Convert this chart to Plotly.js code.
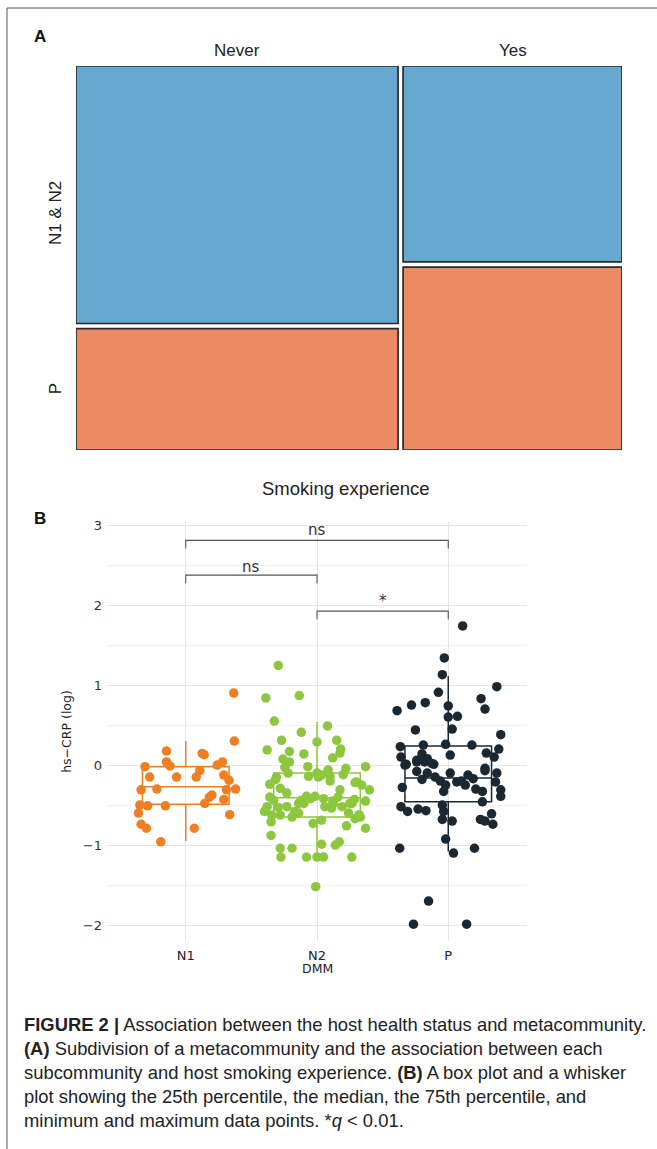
<!DOCTYPE html>
<html>
<head>
<meta charset="utf-8">
<script src="https://cdn.plot.ly/plotly-3.0.1.min.js"></script>
<style>
html,body{margin:0;padding:0;background:#fff;}
#chart{width:657px;height:1149px;}
</style>
</head>
<body>
<div id="chart"></div>
<script>
// ---------- DATA ----------
// Panel A: mosaic (smoking experience x DMM subcommunity), counts
var smokeCats = ['Never', 'Yes'];
var dmmGroupsA = ['N1 & N2', 'P'];
var countsN1N2 = [87, 45];   // per smoking category
var countsP = [41, 42];

// Panel B: hs-CRP (log) by DMM
var dmmCats = ['N1', 'N2', 'P'];
var boxQ1 = [-0.49, -0.65, -0.46];
var boxMedian = [-0.27, -0.41, -0.16];
var boxQ3 = [-0.02, -0.10, 0.24];
var boxLower = [-0.95, -1.15, -1.08];
var boxUpper = [0.30, 0.54, 1.11];

var n1Values = [0.90,0.30,0.175,0.146,0.13,0.04,-0.01,-0.02,0.0,0.04,-0.07,-0.15,-0.15,-0.15,-0.125,-0.19,-0.30,-0.31,-0.31,-0.30,-0.375,-0.40,-0.43,-0.50,-0.51,-0.51,-0.48,-0.60,-0.62,-0.74,-0.79,-0.79,-0.96];
var n1Jitter = [0.366,0.37,-0.147,0.125,0.14,-0.147,-0.12,-0.31,0.24,0.28,0.107,0.08,-0.275,-0.07,0.29,0.33,0.38,0.31,-0.34,-0.22,0.20,0.18,0.29,-0.35,-0.29,-0.155,0.145,-0.36,0.335,-0.34,-0.30,0.065,-0.19];

var n2Values = [1.246,0.84,0.87,0.55,0.49,0.41,0.31,0.29,0.31,0.20,0.15,0.19,0.17,0.14,0.09,0.075,0.04,-0.03,-0.02,-0.04,-0.02,-0.10,-0.06,-0.10,-0.15,
  -0.14,-0.125,-0.14,-0.22,-0.25,-0.24,-0.18,-0.29,-0.35,-0.31,-0.40,-0.44,-0.39,-0.39,-0.42,-0.45,-0.40,-0.43,-0.48,-0.45,-0.48,-0.53,-0.58,-0.625,-0.625,-0.65,-0.60,-0.71,-0.52,-0.60,-0.67,-0.65,-0.69,-0.73,-0.52,-0.48,-0.76,-0.79,-0.88,-0.99,-1.0,-0.96,-1.04,-1.04,-1.15,-1.15,-1.15,-1.15,-1.15,-1.52,
  -0.44,-0.52,-0.48,-0.42,-0.54,-0.31,-0.48,-0.21,-0.15,-0.20,-0.12,-0.58,-0.62,-0.52];
var n2Jitter = [-0.295,-0.39,-0.135,-0.325,0.08,-0.12,-0.27,0,0.15,0.18,0.175,-0.38,-0.21,-0.10,0.12,-0.26,-0.21,-0.245,-0.07,0.22,0.37,-0.22,0.085,0,-0.31,
  -0.065,0.035,0.10,0.29,0.34,-0.36,-0.315,-0.28,-0.23,0.40,-0.36,-0.12,-0.08,-0.015,0.05,0.12,0.16,0.285,0.265,0.37,-0.14,-0.295,-0.40,-0.345,-0.28,-0.19,-0.14,-0.35,0.19,0.24,0.29,0.33,0.035,-0.03,0.06,0.125,0.225,0.37,-0.35,0.035,0.14,0.17,-0.28,-0.19,-0.275,-0.08,0,0.05,0.265,-0.01,
  -0.33,-0.23,-0.10,-0.05,0.11,0.175,0.25,0.30,0.01,0.10,0.20,-0.17,0.32,-0.38];

var pValues = [1.74,1.34,1.13,0.98,0.91,0.83,0.78,0.75,0.68,0.70,0.74,0.60,0.61,0.45,0.44,0.38,0.23,0.25,0.26,0.25,0.20,0.15,0.125,0.10,0.10,0.14,0.06,0.02,0.01,0.08,-0.04,
  0.0,0.04,0.04,0.01,-0.08,-0.10,-0.18,-0.10,-0.07,-0.10,-0.15,-0.20,-0.25,-0.33,-0.21,-0.25,-0.125,-0.17,-0.20,-0.21,-0.30,-0.33,-0.31,-0.39,-0.46,-0.28,-0.52,-0.58,-0.55,-0.57,-0.50,-0.58,-0.68,-0.70,-0.68,-0.70,-0.61,-0.74,-0.925,-1.04,-1.10,-1.04,-1.70,-1.99,-1.99];
var pJitter = [0.11,-0.03,-0.045,0.37,-0.075,0.25,-0.175,-0.28,-0.39,0.28,0,0,0.07,0.03,-0.25,0.40,-0.365,-0.19,-0.02,0.18,0.385,0.29,0.015,0.35,-0.36,-0.20,-0.24,-0.125,-0.32,-0.16,0.28,
  -0.33,-0.24,-0.18,-0.11,-0.24,-0.16,-0.20,0.015,0.28,0.37,-0.10,-0.06,-0.02,-0.035,0.065,0.13,0.15,0.19,0.10,0.36,0.21,0.26,0.40,0.40,0.26,-0.35,-0.36,-0.31,-0.23,-0.17,-0.045,-0.035,-0.045,0.03,0.245,0.28,0.33,0.34,-0.02,-0.37,0.04,0.20,-0.15,-0.265,0.14];

// significance brackets
var bracketFrom = [1, 1, 2];
var bracketTo = [3, 2, 3];
var bracketY = [2.81, 2.375, 1.925];
var bracketLabels = ['ns', 'ns', '*'];

var yTickVals = [-2, -1, 0, 1, 2, 3];

// ---------- STYLE / LAYOUT ----------
var W = 657, H = 1149;
function px(x){ return x / W; }
function py(y){ return 1 - y / H; }

var colBlue = '#67A8D1', colOrange = '#EC8A63';
var groupColors = ['#EE7F22', '#8DC63F', '#1B2832'];

var traces = [];

// Mosaic: compute widths/heights from counts
var totals = smokeCats.map(function(c, i){ return countsN1N2[i] + countsP[i]; });
var grand = totals.reduce(function(a, b){ return a + b; }, 0);
var gapX = 0.0092, gapY = 0.0135;
var xLeft = [], xWidth = [];
var cum = 0;
for (var i = 0; i < smokeCats.length; i++) {
  var frac = totals[i] / grand;
  var w = frac * (1 - gapX * (smokeCats.length - 1));
  xLeft.push(cum);
  xWidth.push(w);
  cum += w + gapX;
}
var pH = [], nH = [], pBase = [], nBase = [], xs = [];
for (var i = 0; i < smokeCats.length; i++) {
  var fp = countsP[i] / totals[i];
  var hp = fp * (1 - gapY);
  pBase.push(0); pH.push(hp);
  nBase.push(hp + gapY); nH.push(1 - hp - gapY);
  xs.push(xLeft[i] + xWidth[i] / 2);
}
traces.push({
  type: 'bar', x: xs, y: nH, base: nBase, width: xWidth, name: dmmGroupsA[0],
  marker: {color: colBlue, line: {color: '#2a2a2a', width: 1.7}},
  xaxis: 'x', yaxis: 'y', hoverinfo: 'skip', showlegend: false
});
traces.push({
  type: 'bar', x: xs, y: pH, base: pBase, width: xWidth, name: dmmGroupsA[1],
  marker: {color: colOrange, line: {color: '#2a2a2a', width: 1.7}},
  xaxis: 'x', yaxis: 'y', hoverinfo: 'skip', showlegend: false
});

// Panel B: boxes
var ptsV = [n1Values, n2Values, pValues];
var ptsJ = [n1Jitter, n2Jitter, pJitter];
for (var g = 0; g < dmmCats.length; g++) {
  traces.push({
    type: 'box', x: [g + 1], q1: [boxQ1[g]], median: [boxMedian[g]], q3: [boxQ3[g]],
    lowerfence: [boxLower[g]], upperfence: [boxUpper[g]],
    width: 0.66, whiskerwidth: 0, boxpoints: false,
    line: {color: groupColors[g], width: 1.5}, fillcolor: 'rgba(0,0,0,0)',
    xaxis: 'x2', yaxis: 'y2', showlegend: false, hoverinfo: 'skip'
  });
}
for (var g = 0; g < dmmCats.length; g++) {
  traces.push({
    type: 'scatter', mode: 'markers',
    x: ptsJ[g].map(function(j){ return g + 1 + j; }), y: ptsV[g],
    marker: {color: groupColors[g], size: 9.5},
    xaxis: 'x2', yaxis: 'y2', showlegend: false, hoverinfo: 'skip', cliponaxis: false
  });
}
// brackets
var drop = 0.1;
for (var b = 0; b < bracketFrom.length; b++) {
  traces.push({
    type: 'scatter', mode: 'lines',
    x: [bracketFrom[b], bracketFrom[b], bracketTo[b], bracketTo[b]],
    y: [bracketY[b] - drop, bracketY[b], bracketY[b], bracketY[b] - drop],
    line: {color: '#555', width: 1.1},
    xaxis: 'x2', yaxis: 'y2', showlegend: false, hoverinfo: 'skip'
  });
}

var annotations = [];
var baseFont = 'Liberation Sans, Arial, sans-serif';
function ann(text, x, y, size, opts) {
  var a = {text: text, x: px(x), y: py(y), xref: 'paper', yref: 'paper', showarrow: false,
    xanchor: 'center', yanchor: 'middle', font: {family: baseFont, size: size, color: '#222'}};
  if (opts) for (var k in opts) a[k] = opts[k];
  return a;
}
annotations.push(ann('<b>A</b>', 40, 36, 17, {font: {family: baseFont, size: 17, color: '#111'}}));
annotations.push(ann('<b>B</b>', 40, 519, 17, {font: {family: baseFont, size: 17, color: '#111'}}));
// column labels centred on mosaic columns
for (var i = 0; i < smokeCats.length; i++) {
  annotations.push({text: smokeCats[i], x: xs[i], y: py(50), xref: 'x', yref: 'paper', yanchor: 'middle', xanchor: 'center',
    showarrow: false, font: {family: baseFont, size: 17, color: '#222'}});
}
// row labels
annotations.push(ann(dmmGroupsA[0], 55, 213, 17, {textangle: -90}));
annotations.push({text: dmmGroupsA[1], x: px(55), xref: 'paper', y: pH[0] / 2, yref: 'y', textangle: -90,
  showarrow: false, xanchor: 'center', yanchor: 'middle', font: {family: baseFont, size: 17, color: '#222'}});
annotations.push(ann('Smoking experience', 346, 488, 18.5));

// bracket labels
var bracketLabelY = [2.94, 2.48, 2.05];
for (var b = 0; b < bracketFrom.length; b++) {
  annotations.push({text: bracketLabels[b], x: (bracketFrom[b] + bracketTo[b]) / 2, y: bracketLabelY[b], xref: 'x2', yref: 'y2',
    showarrow: false, xanchor: 'center', yanchor: 'middle', font: {family: 'DejaVu Sans, sans-serif', size: 15, color: '#333'}});
}
annotations.push(ann('DMM', 317, 968, 12.5, {font: {family: 'DejaVu Sans, sans-serif', size: 12.5, color: '#222'}}));

// caption
var capFont = {family: baseFont, size: 18.4, color: '#222'};
var capLines = [
  '<b>FIGURE 2 |</b> Association between the host health status and metacommunity.',
  '<b>(A)</b> Subdivision of a metacommunity and the association between each',
  'subcommunity and host smoking experience. <b>(B)</b> A box plot and a whisker',
  'plot showing the 25th percentile, the median, the 75th percentile, and',
  'minimum and maximum data points. *<i>q</i> &lt; 0.01.'
];
var capY = [1024, 1048, 1072, 1096, 1120];
for (var l = 0; l < capLines.length; l++) {
  annotations.push(ann(capLines[l], 22, capY[l], 18.4, {xanchor: 'left', font: capFont}));
}

var layout = {
  width: W, height: H,
  margin: {l: 0, r: 0, t: 0, b: 0},
  paper_bgcolor: '#fff', plot_bgcolor: 'rgba(0,0,0,0)',
  barmode: 'overlay', boxmode: 'overlay',
  showlegend: false,
  xaxis: {domain: [px(76), px(622)], range: [0, 1], showgrid: false, zeroline: false, showticklabels: false, showline: false, fixedrange: true},
  yaxis: {domain: [py(450), py(66)], range: [0, 1], showgrid: false, zeroline: false, showticklabels: false, showline: false, fixedrange: true},
  xaxis2: {domain: [px(107), px(527)], range: [0.4, 3.6], anchor: 'y2',
    tickvals: [1, 2, 3], ticktext: dmmCats, showgrid: true, gridcolor: '#e6e6e6', gridwidth: 1,
    zeroline: false, showline: false, ticks: '', automargin: false, ticklabelstandoff: 5,
    tickfont: {family: 'DejaVu Sans, sans-serif', size: 13, color: '#222'}},
  yaxis2: {domain: [py(941), py(522)], range: [-2.2, 3.04], anchor: 'x2',
    tickvals: yTickVals, showgrid: true, gridcolor: '#e6e6e6', gridwidth: 1,
    minor: {tickvals: [-1.5, -0.5, 0.5, 1.5, 2.5], showgrid: true, gridcolor: '#f1f1f1', gridwidth: 1},
    zeroline: false, showline: false, ticks: '', automargin: false, ticklabelstandoff: 4,
    tickfont: {family: 'DejaVu Sans, sans-serif', size: 13, color: '#333'},
    title: {text: 'hs\u2212CRP (log)', font: {family: 'DejaVu Sans, sans-serif', size: 12.5, color: '#222'}, standoff: 8}},
  shapes: [
    {type: 'rect', xref: 'paper', yref: 'paper', x0: px(7), x1: 1.02, y0: -0.02, y1: py(8),
      line: {color: '#555', width: 1}, fillcolor: 'rgba(0,0,0,0)'}
  ],
  annotations: annotations
};

Plotly.newPlot('chart', traces, layout, {displayModeBar: false, staticPlot: true});
</script>
</body>
</html>
